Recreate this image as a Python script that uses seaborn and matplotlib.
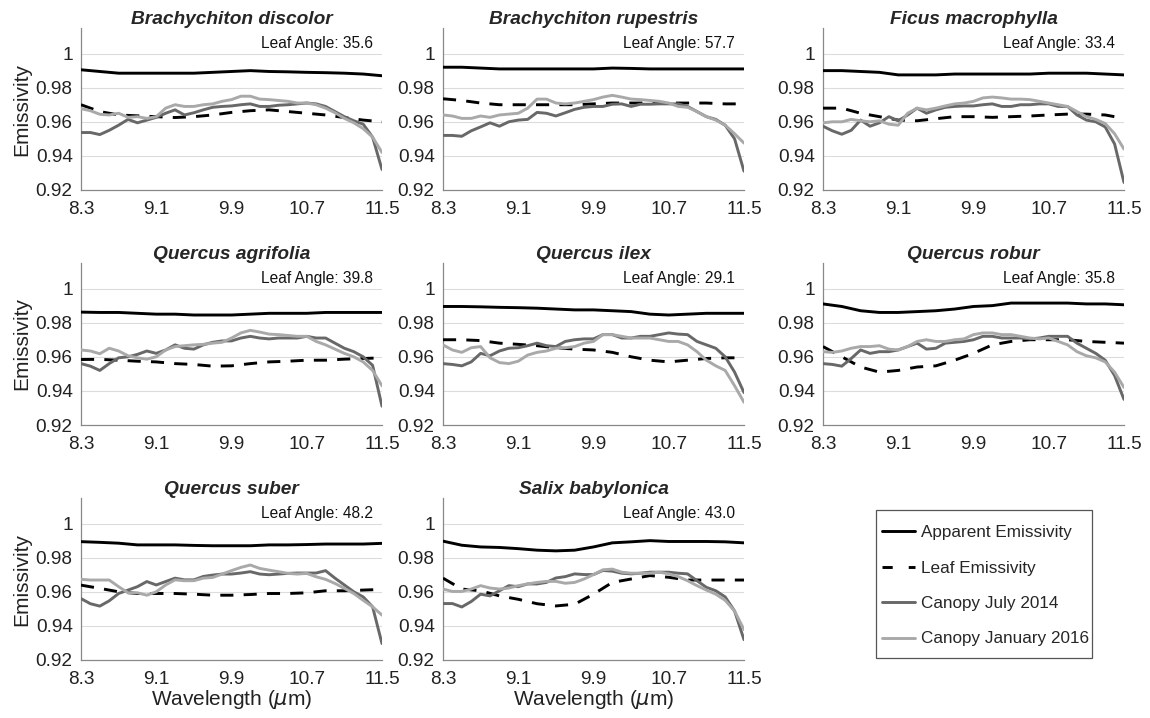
import numpy as np
import pandas as pd
import matplotlib
matplotlib.use("Agg")
import matplotlib.pyplot as plt
import seaborn as sns
from matplotlib.lines import Line2D
from matplotlib.patches import Rectangle

# ---------------- data ----------------
wl_coarse = [8.3, 8.5, 8.7, 8.9, 9.1, 9.3, 9.5, 9.7, 9.9, 10.1, 10.3, 10.5, 10.7, 10.9, 11.1, 11.3, 11.5]
wl_fine = [8.3, 8.4, 8.5, 8.6, 8.7, 8.8, 8.9, 9.0, 9.1, 9.2, 9.3, 9.4, 9.5, 9.6, 9.7, 9.8, 9.9,
           10.0, 10.1, 10.2, 10.3, 10.4, 10.5, 10.6, 10.7, 10.8, 10.9, 11.0, 11.1, 11.2, 11.3, 11.4, 11.5]

species = ["Brachychiton discolor", "Brachychiton rupestris", "Ficus macrophylla",
           "Quercus agrifolia", "Quercus ilex", "Quercus robur",
           "Quercus suber", "Salix babylonica"]
leaf_angles = ["35.6", "57.7", "33.4", "39.8", "29.1", "35.8", "48.2", "43.0"]

series_names = ["Apparent Emissivity", "Leaf Emissivity", "Canopy July 2014", "Canopy January 2016"]

# Apparent emissivity (coarse grid)
apparent = {
    "Brachychiton discolor": [0.9905, 0.9895, 0.9885, 0.9885, 0.9885, 0.9885, 0.9885, 0.989, 0.9895, 0.990, 0.9895, 0.9893, 0.989, 0.9888, 0.9885, 0.988, 0.987],
    "Brachychiton rupestris": [0.992, 0.992, 0.9915, 0.991, 0.991, 0.991, 0.991, 0.991, 0.991, 0.9915, 0.9913, 0.991, 0.991, 0.991, 0.991, 0.991, 0.991],
    "Ficus macrophylla": [0.990, 0.990, 0.9895, 0.989, 0.9875, 0.9875, 0.9875, 0.988, 0.988, 0.988, 0.988, 0.988, 0.9885, 0.9885, 0.9885, 0.988, 0.9875],
    "Quercus agrifolia": [0.9862, 0.986, 0.986, 0.9855, 0.985, 0.985, 0.9845, 0.9845, 0.9845, 0.985, 0.9855, 0.9855, 0.9855, 0.986, 0.986, 0.986, 0.986],
    "Quercus ilex": [0.9895, 0.9895, 0.9893, 0.989, 0.9888, 0.9885, 0.988, 0.9875, 0.9875, 0.987, 0.9865, 0.985, 0.9845, 0.985, 0.9855, 0.9855, 0.9855],
    "Quercus robur": [0.991, 0.9895, 0.987, 0.986, 0.986, 0.9865, 0.987, 0.988, 0.9895, 0.990, 0.9915, 0.9915, 0.9915, 0.9915, 0.991, 0.991, 0.9905],
    "Quercus suber": [0.9894, 0.989, 0.9885, 0.9875, 0.9875, 0.9875, 0.9872, 0.987, 0.987, 0.987, 0.9875, 0.9875, 0.9877, 0.988, 0.988, 0.988, 0.9884],
    "Salix babylonica": [0.9897, 0.9873, 0.9863, 0.986, 0.9853, 0.9844, 0.984, 0.9844, 0.9863, 0.9887, 0.9893, 0.990, 0.9895, 0.9895, 0.9895, 0.9893, 0.9887],
}

# Leaf emissivity (coarse grid)
leaf = {
    "Brachychiton discolor": [0.970, 0.966, 0.964, 0.9635, 0.963, 0.9625, 0.963, 0.964, 0.9655, 0.9665, 0.967, 0.966, 0.965, 0.964, 0.9625, 0.961, 0.960],
    "Brachychiton rupestris": [0.9735, 0.9725, 0.971, 0.970, 0.970, 0.970, 0.970, 0.970, 0.9705, 0.971, 0.971, 0.971, 0.971, 0.971, 0.971, 0.9705, 0.9705],
    "Ficus macrophylla": [0.968, 0.968, 0.965, 0.963, 0.961, 0.9606, 0.9618, 0.963, 0.963, 0.9626, 0.963, 0.9634, 0.964, 0.9645, 0.9645, 0.964, 0.962],
    "Quercus agrifolia": [0.9584, 0.9585, 0.958, 0.9574, 0.957, 0.956, 0.9555, 0.9545, 0.9547, 0.956, 0.957, 0.9574, 0.958, 0.958, 0.9586, 0.959, 0.9594],
    "Quercus ilex": [0.970, 0.970, 0.9695, 0.968, 0.9673, 0.9665, 0.9653, 0.9645, 0.964, 0.9626, 0.960, 0.958, 0.957, 0.958, 0.959, 0.9594, 0.9594],
    "Quercus robur": [0.966, 0.960, 0.954, 0.951, 0.952, 0.954, 0.9547, 0.958, 0.962, 0.967, 0.969, 0.970, 0.970, 0.970, 0.969, 0.9685, 0.968],
    "Quercus suber": [0.9639, 0.962, 0.960, 0.959, 0.959, 0.959, 0.9586, 0.958, 0.958, 0.9584, 0.959, 0.959, 0.9594, 0.9606, 0.9606, 0.961, 0.9614],
    "Salix babylonica": [0.968, 0.9616, 0.9606, 0.9576, 0.9556, 0.953, 0.9517, 0.9527, 0.9586, 0.9655, 0.9675, 0.9695, 0.9685, 0.9669, 0.9669, 0.9669, 0.9669],
}

# Canopy July 2014 (fine grid)
canopy_july = {
    "Brachychiton discolor": [0.9537, 0.9537, 0.9525, 0.955, 0.958, 0.9614, 0.9594, 0.961, 0.9626, 0.965, 0.967, 0.964, 0.9653, 0.967, 0.9685, 0.969, 0.9693,
                              0.970, 0.9705, 0.969, 0.969, 0.9697, 0.970, 0.9705, 0.971, 0.9705, 0.969, 0.966, 0.963, 0.9606, 0.9586, 0.951, 0.932],
    "Brachychiton rupestris": [0.952, 0.952, 0.9515, 0.9547, 0.957, 0.9594, 0.9574, 0.960, 0.961, 0.9614, 0.9655, 0.965, 0.9634, 0.9653, 0.9673, 0.9685, 0.969,
                               0.969, 0.9703, 0.9705, 0.969, 0.9703, 0.9703, 0.9705, 0.9705, 0.9705, 0.969, 0.966, 0.963, 0.9614, 0.958, 0.950, 0.931],
    "Ficus macrophylla": [0.9574, 0.9547, 0.9527, 0.955, 0.961, 0.9574, 0.9594, 0.963, 0.9606, 0.964, 0.968, 0.965, 0.967, 0.9685, 0.969, 0.9693, 0.9693,
                          0.970, 0.9705, 0.969, 0.969, 0.970, 0.970, 0.9705, 0.9705, 0.969, 0.969, 0.964, 0.961, 0.960, 0.957, 0.947, 0.9244],
    "Quercus agrifolia": [0.956, 0.9545, 0.952, 0.956, 0.9594, 0.960, 0.9614, 0.9634, 0.962, 0.964, 0.967, 0.965, 0.9645, 0.967, 0.9685, 0.9693, 0.9693,
                          0.971, 0.972, 0.971, 0.9705, 0.971, 0.971, 0.971, 0.972, 0.971, 0.971, 0.968, 0.965, 0.963, 0.960, 0.955, 0.931],
    "Quercus ilex": [0.956, 0.9555, 0.9547, 0.957, 0.962, 0.9606, 0.9634, 0.965, 0.9653, 0.9665, 0.968, 0.9665, 0.966, 0.969, 0.970, 0.9705, 0.9705,
                     0.973, 0.973, 0.971, 0.971, 0.972, 0.972, 0.973, 0.974, 0.9733, 0.973, 0.969, 0.967, 0.965, 0.960, 0.951, 0.939],
    "Quercus robur": [0.956, 0.9555, 0.9545, 0.959, 0.964, 0.962, 0.963, 0.963, 0.964, 0.966, 0.968, 0.9645, 0.965, 0.968, 0.9685, 0.969, 0.970,
                      0.972, 0.972, 0.971, 0.971, 0.971, 0.9705, 0.971, 0.972, 0.972, 0.972, 0.968, 0.965, 0.962, 0.958, 0.949, 0.935],
    "Quercus suber": [0.956, 0.953, 0.9516, 0.9547, 0.959, 0.961, 0.963, 0.966, 0.964, 0.966, 0.968, 0.967, 0.967, 0.969, 0.9698, 0.9704, 0.9704,
                      0.971, 0.9718, 0.9704, 0.970, 0.9704, 0.9708, 0.971, 0.971, 0.971, 0.9724, 0.968, 0.964, 0.960, 0.957, 0.9512, 0.9296],
    "Salix babylonica": [0.9531, 0.9531, 0.9511, 0.9543, 0.9586, 0.9576, 0.9606, 0.9636, 0.963, 0.9646, 0.9646, 0.9655, 0.9681, 0.9689, 0.9705, 0.9701, 0.9701,
                         0.9725, 0.9721, 0.9709, 0.9705, 0.9709, 0.9715, 0.9715, 0.9715, 0.9709, 0.9705, 0.9665, 0.9626, 0.9606, 0.957, 0.9487, 0.9319],
}

# Canopy January 2016 (fine grid)
canopy_jan = {
    "Brachychiton discolor": [0.9677, 0.9665, 0.9644, 0.964, 0.965, 0.9626, 0.963, 0.962, 0.963, 0.968, 0.970, 0.969, 0.969, 0.970, 0.9705, 0.972, 0.973,
                              0.975, 0.975, 0.9733, 0.973, 0.9725, 0.972, 0.971, 0.971, 0.970, 0.968, 0.9653, 0.962, 0.9594, 0.956, 0.951, 0.942],
    "Brachychiton rupestris": [0.964, 0.9634, 0.962, 0.962, 0.9634, 0.9626, 0.964, 0.9645, 0.965, 0.968, 0.9733, 0.9733, 0.971, 0.9705, 0.971, 0.972, 0.973,
                               0.9745, 0.9755, 0.9745, 0.9733, 0.973, 0.9725, 0.972, 0.971, 0.969, 0.9685, 0.966, 0.963, 0.961, 0.958, 0.953, 0.9475],
    "Ficus macrophylla": [0.9594, 0.960, 0.960, 0.9614, 0.9606, 0.960, 0.9606, 0.9586, 0.958, 0.965, 0.968, 0.967, 0.968, 0.9693, 0.9705, 0.971, 0.972,
                          0.974, 0.9745, 0.974, 0.9733, 0.9733, 0.973, 0.972, 0.971, 0.970, 0.969, 0.966, 0.963, 0.9614, 0.959, 0.953, 0.944],
    "Quercus agrifolia": [0.964, 0.9634, 0.9618, 0.965, 0.9634, 0.9606, 0.9594, 0.9586, 0.960, 0.964, 0.966, 0.9665, 0.967, 0.9673, 0.968, 0.9685, 0.971,
                          0.974, 0.9755, 0.9745, 0.9733, 0.973, 0.9725, 0.972, 0.972, 0.969, 0.967, 0.9645, 0.962, 0.960, 0.957, 0.952, 0.943],
    "Quercus ilex": [0.967, 0.964, 0.9626, 0.9653, 0.966, 0.9594, 0.9566, 0.956, 0.9574, 0.961, 0.9626, 0.9634, 0.965, 0.9653, 0.966, 0.968, 0.969,
                     0.973, 0.973, 0.972, 0.971, 0.971, 0.971, 0.970, 0.969, 0.969, 0.967, 0.963, 0.958, 0.9547, 0.952, 0.943, 0.9333],
    "Quercus robur": [0.963, 0.9626, 0.9634, 0.965, 0.966, 0.966, 0.9665, 0.9645, 0.964, 0.966, 0.969, 0.970, 0.969, 0.969, 0.970, 0.9705, 0.973,
                      0.974, 0.974, 0.973, 0.973, 0.972, 0.971, 0.9705, 0.971, 0.969, 0.967, 0.963, 0.9606, 0.9594, 0.957, 0.951, 0.942],
    "Quercus suber": [0.9673, 0.9669, 0.9669, 0.9669, 0.963, 0.9594, 0.9594, 0.958, 0.960, 0.964, 0.967, 0.9665, 0.9665, 0.968, 0.9684, 0.9704, 0.9724,
                      0.9743, 0.9757, 0.9737, 0.9727, 0.9718, 0.9708, 0.9704, 0.9708, 0.9688, 0.9673, 0.9649, 0.962, 0.959, 0.955, 0.9512, 0.9463],
    "Salix babylonica": [0.9616, 0.9602, 0.9602, 0.9616, 0.9636, 0.9622, 0.9616, 0.9622, 0.9636, 0.9646, 0.9655, 0.9661, 0.9661, 0.965, 0.9655, 0.9675, 0.9701,
                         0.9729, 0.9733, 0.9715, 0.9709, 0.9709, 0.9709, 0.9715, 0.9705, 0.9689, 0.9665, 0.9636, 0.961, 0.9586, 0.955, 0.9487, 0.9378],
}

x_ticks = [8.3, 9.1, 9.9, 10.7, 11.5]
x_tick_labels = ["8.3", "9.1", "9.9", "10.7", "11.5"]
y_ticks = [0.92, 0.94, 0.96, 0.98, 1.0]
y_tick_labels = ["0.92", "0.94", "0.96", "0.98", "1"]

# ---------------- style ----------------
sns.set_theme(style="white")
plt.rcParams["font.family"] = ["Liberation Sans", "DejaVu Sans"]
plt.rcParams["mathtext.fontset"] = "dejavusans"

c_app = "#000000"
c_leaf = "#000000"
c_july = "#686868"
c_jan = "#a9a9a9"
lw = 2.1
dash = (0, (4.5, 3.5))

W, H = 1150, 718
fig = plt.figure(figsize=(W / 100, H / 100), dpi=100)

col_left = [81, 443, 823]
row_bottom = [190, 425, 660]
ax_w, ax_h = 301, 162

for i, sp in enumerate(species):
    r, c = divmod(i, 3)
    ax = fig.add_axes([col_left[c] / W, 1 - row_bottom[r] / H, ax_w / W, ax_h / H])
    ax.set_ylim(0.92, 1.015)
    ax.set_xlim(8.3, 11.5)
    for yv in y_ticks[1:]:
        ax.axhline(yv, color="#dcdcdc", lw=0.8, zorder=0)

    sns.lineplot(x=wl_coarse, y=apparent[sp], ax=ax, color=c_app, lw=lw, zorder=3)
    sns.lineplot(x=wl_coarse, y=leaf[sp], ax=ax, color=c_leaf, lw=lw, zorder=3,
                 dashes=False, linestyle=dash)
    sns.lineplot(x=wl_fine, y=canopy_july[sp], ax=ax, color=c_july, lw=lw, zorder=4)
    sns.lineplot(x=wl_fine, y=canopy_jan[sp], ax=ax, color=c_jan, lw=lw, zorder=5)

    ax.set_xticks(x_ticks)
    ax.set_xticklabels(x_tick_labels)
    ax.set_yticks(y_ticks)
    ax.set_yticklabels(y_tick_labels)
    ax.tick_params(axis="x", length=3, width=0.8, color="#888888", labelsize=13.7,
                   labelcolor="#222222", pad=5)
    ax.tick_params(axis="y", length=0, labelsize=13.7, labelcolor="#222222", pad=6)
    for s in ["top", "right"]:
        ax.spines[s].set_visible(False)
    for s in ["left", "bottom"]:
        ax.spines[s].set_color("#888888")
        ax.spines[s].set_linewidth(0.9)

    ax.set_title(sp, fontsize=13.8, fontweight="bold", fontstyle="italic", pad=3)
    ax.text(0.97, 0.905, "Leaf Angle: " + leaf_angles[i], transform=ax.transAxes,
            ha="right", va="center", fontsize=11.2, color="#111111")
    if c == 0:
        ax.set_ylabel("Emissivity", fontsize=15, color="#222222", labelpad=3)
    else:
        ax.set_ylabel("")
    if r == 2:
        ax.set_xlabel("Wavelength ($\\mu$m)", fontsize=15, color="#222222", labelpad=0)
    else:
        ax.set_xlabel("")

handles = [
    Line2D([], [], color=c_app, lw=lw),
    Line2D([], [], color=c_leaf, lw=lw, linestyle=(0, (3.5, 5.5))),
    Line2D([], [], color=c_july, lw=lw),
    Line2D([], [], color=c_jan, lw=lw),
]
leg = fig.legend(handles, series_names, loc="upper left",
                 bbox_to_anchor=(882 / W, 1 - 525 / H), bbox_transform=fig.transFigure,
                 fontsize=12.3, frameon=False,
                 handlelength=1.95, handletextpad=0.35, labelspacing=1.2,
                 borderpad=0, borderaxespad=0)
fig.patches.append(Rectangle((876 / W, 1 - 658 / H), (1092 - 876) / W, (658 - 510) / H,
                             transform=fig.transFigure, fill=False, edgecolor="#555555",
                             lw=0.9, zorder=0))

fig.savefig("out.png", dpi=100)
